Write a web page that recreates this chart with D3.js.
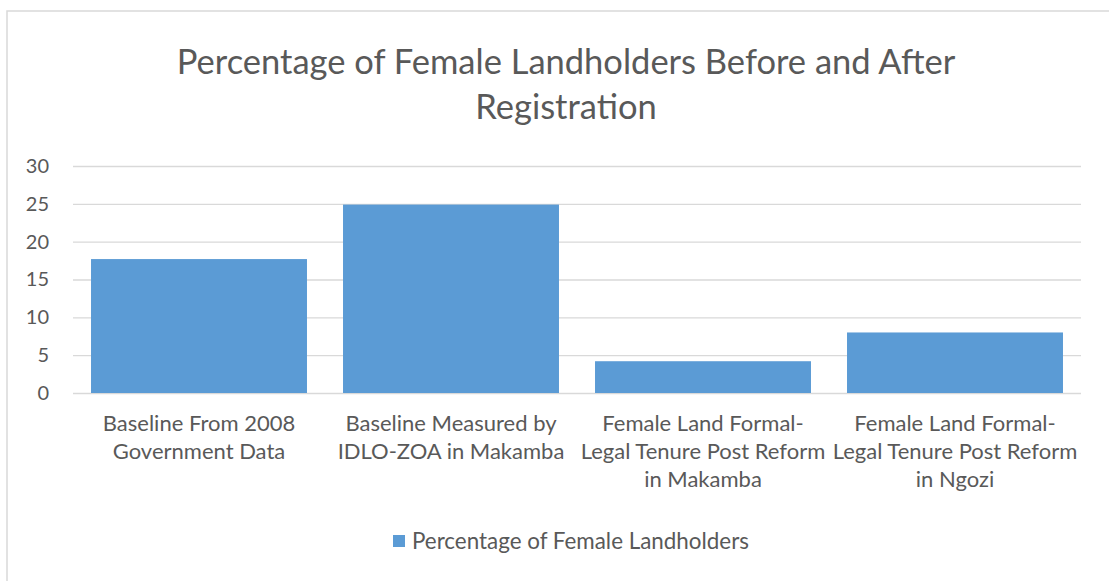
<!DOCTYPE html>
<html>
<head>
<meta charset="utf-8">
<script src="https://cdn.jsdelivr.net/npm/d3@7"></script>
<style>
  body { margin: 0; background: #fff; }
  text { font-family: Lato, "Open Sans", sans-serif; fill: #595959; }
</style>
</head>
<body>
<div id="vis-container"></div>
<script>
//data
let categories = [
  "Baseline From 2008 Government Data",
  "Baseline Measured by IDLO-ZOA in Makamba",
  "Female Land Formal-Legal Tenure Post Reform in Makamba",
  "Female Land Formal-Legal Tenure Post Reform in Ngozi"
];
let values = [17.7, 24.9, 4.2, 8.0];
let yTicks = [0, 5, 10, 15, 20, 25, 30];
let labelLines = [
  ["Baseline From 2008", "Government Data"],
  ["Baseline Measured by", "IDLO-ZOA in Makamba"],
  ["Female Land Formal-", "Legal Tenure Post Reform", "in Makamba"],
  ["Female Land Formal-", "Legal Tenure Post Reform", "in Ngozi"]
];
let seriesName = "Percentage of Female Landholders";
let titleLines = ["Percentage of Female Landholders Before and After", "Registration"];

let W = 1109, H = 581;
let margin = {top: 166, right: 28, bottom: 188, left: 73};
let width = W - margin.left - margin.right;
let height = H - margin.top - margin.bottom;

let svg = d3.select("#vis-container")
  .append("svg")
  .attr("width", W)
  .attr("height", H);

//chart frame
svg.append("rect")
  .attr("x", 7).attr("y", 11)
  .attr("width", W + 20).attr("height", H + 20)
  .attr("fill", "none")
  .attr("stroke", "#d9d9d9")
  .attr("stroke-width", 1.5);

//title
svg.append("text")
  .attr("x", 566)
  .attr("text-anchor", "middle")
  .attr("font-size", "34.5px")
  .selectAll("tspan")
  .data(titleLines)
  .enter().append("tspan")
    .attr("x", 566)
    .attr("y", (d, i) => 74 + i * 45)
    .text(d => d);

let g = svg.append("g")
  .attr("transform", `translate(${margin.left}, ${margin.top})`);

//scales
let x = d3.scaleBand()
  .domain(categories)
  .range([0, width])
  .paddingInner(0.143)
  .paddingOuter(0.0715);

let y = d3.scaleLinear()
  .domain([0, 30])
  .range([height, 0]);

//gridlines
let yGrid = d3.axisLeft(y)
  .tickValues(yTicks)
  .tickSize(-width)
  .tickFormat("");

g.append("g")
  .attr("class", "grid")
  .call(yGrid)
  .call(s => s.select(".domain").remove())
  .call(s => s.selectAll("line").attr("stroke", "#d9d9d9").attr("stroke-width", 1.3));

//y axis labels
let yAxis = d3.axisLeft(y)
  .tickValues(yTicks)
  .tickSize(0)
  .tickPadding(24);

g.append("g")
  .attr("class", "y axis")
  .call(yAxis)
  .call(s => s.select(".domain").remove())
  .call(s => s.selectAll("text")
    .attr("font-size", "20px")
    .attr("font-family", "Lato, 'Open Sans', sans-serif")
    .attr("fill", "#595959"));

//bars
g.selectAll("rect.bar")
  .data(values)
  .enter()
  .append("rect")
    .attr("class", "bar")
    .attr("x", (d, i) => x(categories[i]))
    .attr("y", d => y(d))
    .attr("width", x.bandwidth())
    .attr("height", d => height - y(d))
    .attr("fill", "#5b9bd5");

//x labels
let xl = g.selectAll("text.xlab")
  .data(labelLines)
  .enter()
  .append("text")
    .attr("class", "xlab")
    .attr("text-anchor", "middle")
    .attr("font-size", "22px");

xl.selectAll("tspan")
  .data((d, i) => d.map(t => ({t: t, i: i})))
  .enter().append("tspan")
    .attr("x", d => x(categories[d.i]) + x.bandwidth() / 2)
    .attr("y", (d, j) => height + 38 + j * 28)
    .text(d => d.t);

//legend
let gLegend = svg.append("g")
  .attr("transform", "translate(393, 535)");

gLegend.append("rect")
  .attr("width", 12).attr("height", 12)
  .attr("fill", "#5b9bd5");

gLegend.append("text")
  .attr("x", 19)
  .attr("y", 14)
  .attr("font-size", "22.4px")
  .text(seriesName);
</script>
</body>
</html>
